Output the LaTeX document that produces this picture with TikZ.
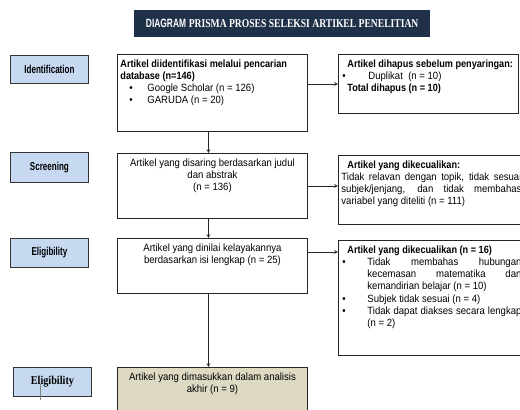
\documentclass[tikz,border=0pt]{standalone}
\usepackage{fontspec}
\setmainfont{Liberation Sans}
\newfontfamily\bodyfont[FakeStretch=0.91, BoldFeatures={FakeStretch=0.87}]{Liberation Sans}
\newfontfamily\labfont[FakeStretch=0.7]{Liberation Sans Bold}
\newfontfamily\labserif[FakeStretch=0.85]{Liberation Serif Bold}
\newfontfamily\titlesans[FakeStretch=0.7]{Liberation Sans Bold}
\newfontfamily\titleserif[FakeStretch=0.8]{Liberation Serif Bold}
\usetikzlibrary{positioning,calc}
\hyphenpenalty=10000
\exhyphenpenalty=10000

\definecolor{navy}{HTML}{1F3049}
\definecolor{stagefill}{HTML}{C6D9F1}
\definecolor{inclfill}{HTML}{DDD9C3}

% fixed size text block, top aligned
\newcommand{\flowtext}[3]{\parbox[c][#2][t]{#1}{#3}}
% bullet line with hanging indent
\newcommand{\pitem}[3]{\par\noindent\hangindent=#2\hangafter=1\makebox[#2][l]{\hspace*{#1}\textbullet}\ignorespaces#3}

\begin{document}
\begin{tikzpicture}[x=1pt,y=-1pt,
    stage/.style={draw=black!80, line width=0.9pt, fill=stagefill, minimum width=78pt, minimum height=28pt, anchor=north west, inner sep=0pt, font=\labfont\fontsize{11.5}{12}\selectfont},
    flowbox/.style={draw=black!85, line width=0.9pt, anchor=north west, inner xsep=3pt, inner ysep=5pt, font=\bodyfont\fontsize{10.5}{12.3}\selectfont},
    flowarrow/.style={-stealth, line width=0.7pt, black!85}]
        \clip (0,0) rectangle (520,410);

        % title banner
        \node[fill=navy, text=white, minimum width=296pt, minimum height=27pt, anchor=north west, inner sep=0pt] (title) at (134,10)
            {{\titlesans\fontsize{12}{13}\selectfont DIAGRAM} {\titleserif\fontsize{12}{13}\selectfont PRISMA PROSES SELEKSI ARTIKEL PENELITIAN}};

        % stage labels
        \node[stage] (idlab) at (10,55) {Identification};
        \node[stage, minimum height=30pt] (scrlab) at (10,152) {Screening};
        \node[stage, minimum height=29pt] (elilab) at (10,238) {Eligibility};
        \node[stage, minimum height=29pt, font=\labserif\fontsize{12}{13}\selectfont] (inclab) at (13,367) {Eligibility};
        \draw[gray, line width=0.6pt] (40,384) -- (40,400);

        % main column
        \node[flowbox] (artid) at (117,54) {\flowtext{184pt}{67pt}{\raggedright
            \textbf{Artikel diidentifikasi melalui pencarian database (n=146)}
            \pitem{9pt}{27pt}{Google Scholar (n = 126)}
            \pitem{9pt}{27pt}{GARUDA (n = 20)}}};
        \node[flowbox] (artscr) at (117,153) {\flowtext{184pt}{55pt}{\centering
            Artikel yang disaring berdasarkan judul\\ dan abstrak\\ (n = 136)}};
        \node[flowbox] (artelig) at (117,238) {\flowtext{184pt}{45pt}{\centering
            Artikel yang dinilai kelayakannya\\ berdasarkan isi lengkap (n = 25)}};
        \node[flowbox, fill=inclfill] (artincl) at (117,367) {\flowtext{184pt}{38pt}{\centering
            Artikel yang dimasukkan dalam analisis\\ akhir (n = 9)}};

        % excluded column
        \node[flowbox] (remdup) at (338,54) {\flowtext{174pt}{49pt}{\raggedright
            \hspace*{6pt}\textbf{Artikel dihapus sebelum penyaringan:}
            \pitem{1pt}{27pt}{Duplikat~ (n = 10)}
            \par\noindent\hspace*{6pt}\textbf{Total dihapus (n = 10)}}};
        \node[flowbox] (exscr) at (338,155) {\flowtext{180pt}{59pt}{
            \hspace*{6pt}\textbf{Artikel yang dikecualikan:}\par\noindent
            Tidak relavan dengan topik, tidak sesuai subjek/jenjang, dan tidak membahas variabel yang diteliti (n = 111)}};
        \node[flowbox] (exelig) at (338,240) {\flowtext{180pt}{105pt}{
            \hspace*{6pt}\textbf{Artikel yang dikecualikan (n = 16)}
            \pitem{1pt}{26pt}{Tidak membahas hubungan kecemasan matematika dan kemandirian belajar (n = 10)}
            \pitem{1pt}{26pt}{Subjek tidak sesuai (n = 4)}
            \pitem{1pt}{26pt}{Tidak dapat diakses secara lengkap (n = 2)}}};

        % arrows down
        \draw[flowarrow] ([xshift=-4pt]artid.south) -- ([xshift=-4pt]artscr.north);
        \draw[flowarrow] ([xshift=-4pt]artscr.south) -- ([xshift=-4pt]artelig.north);
        \draw[flowarrow] ([xshift=-4pt]artelig.south) -- ([xshift=-4pt]artincl.north);
        % arrows right
        \draw[flowarrow] (artid.east |- remdup.west) -- (remdup.west);
        \draw[flowarrow] (artscr.east) -- (artscr.east -| exscr.west);
        \coordinate (eligout) at ($(artelig.north east)!0.25!(artelig.south east)$);
        \draw[flowarrow] (eligout) -- (eligout -| exelig.west);
\end{tikzpicture}
\end{document}
